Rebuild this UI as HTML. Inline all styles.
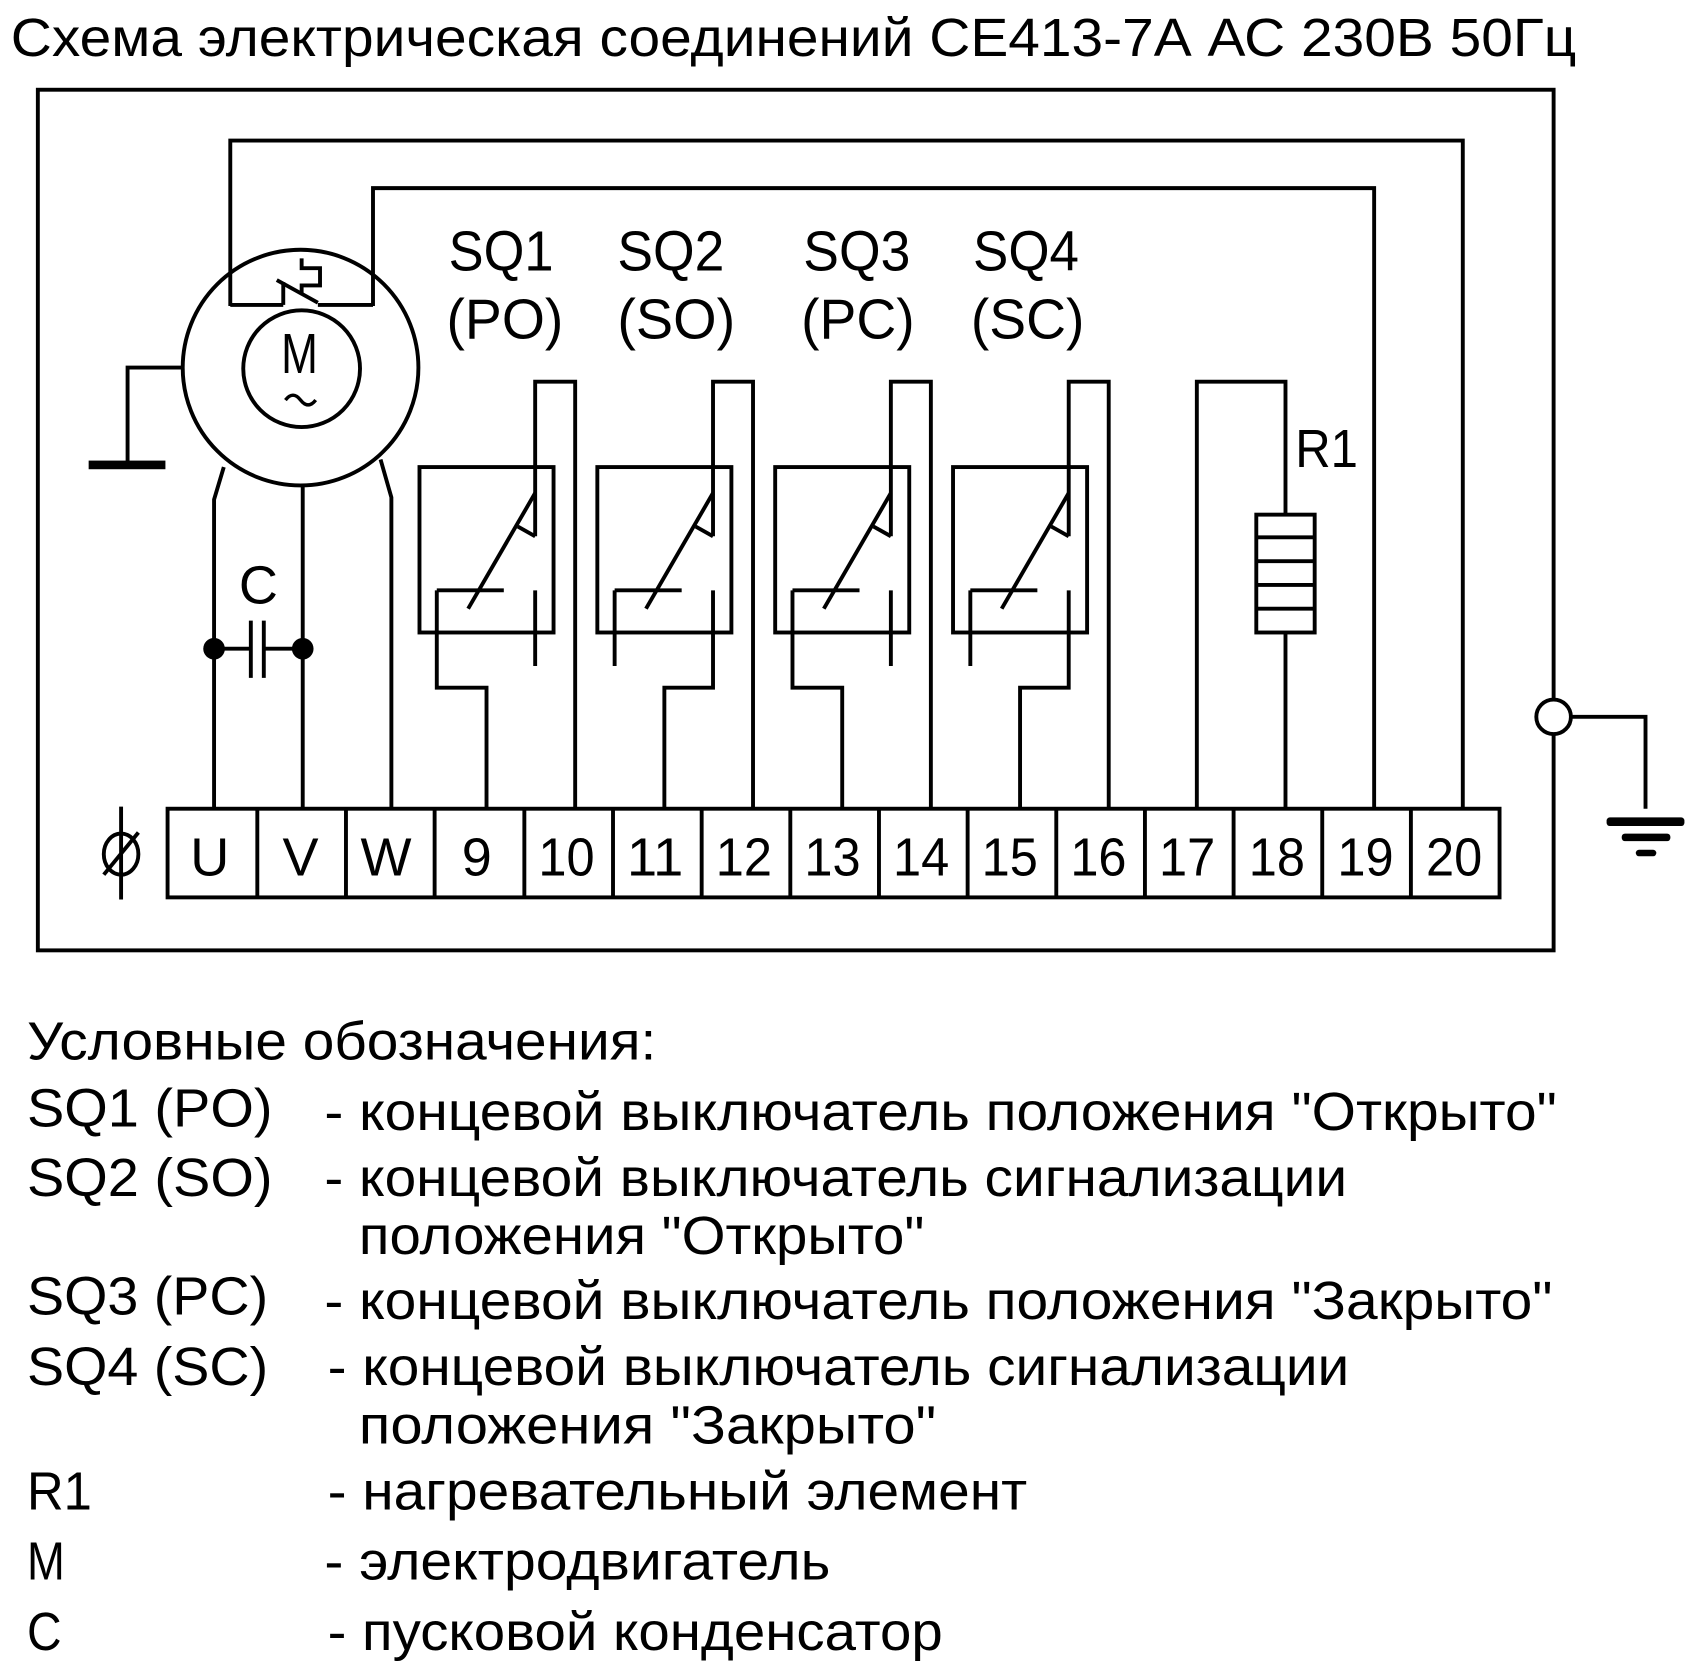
<!DOCTYPE html>
<html><head><meta charset="utf-8">
<style>
html,body{margin:0;padding:0;background:#fff;}
svg{display:block;}
text{font-family:"Liberation Sans","DejaVu Sans",sans-serif;fill:#000;}
</style></head>
<body>
<svg width="1692" height="1674" viewBox="0 0 1565 1548.3" preserveAspectRatio="none" xmlns="http://www.w3.org/2000/svg">
<g fill="none" stroke="#000" stroke-width="3.6" stroke-linejoin="miter" stroke-linecap="butt">
  <rect x="35" y="83" width="1402" height="796"/>
  <polyline points="213,283 213,130 1353,130 1353,748"/>
  <polyline points="345,283 345,174 1271,174 1271,748"/>
  <polyline points="262,282 213,282"/>
  <polyline points="294,282 345,282"/>
  <line x1="262" y1="282" x2="262" y2="261"/>
  <line x1="256" y1="259" x2="294" y2="280"/>
  <polyline points="279,239 279,248 296,248 296,264 279,264 279,272"/>
  <circle cx="278" cy="340" r="109"/>
  <circle cx="279" cy="341" r="54"/>
  <polyline points="169,340 118,340 118,430"/>
  <polyline points="207,432 198,462 198,748"/>
  <line x1="280" y1="449" x2="280" y2="748"/>
  <polyline points="352,425 362,460 362,748"/>
  <line x1="198" y1="600" x2="232" y2="600"/>
  <line x1="244" y1="600" x2="280" y2="600"/>
  <line x1="232" y1="574" x2="232" y2="627"/>
  <line x1="244" y1="574" x2="244" y2="627"/>
  <rect x="155" y="748" width="1232" height="82"/>
  <path d="M238,748V830M320,748V830M402,748V830M485,748V830M567,748V830M649,748V830M731,748V830M813,748V830M895,748V830M977,748V830M1059,748V830M1141,748V830M1223,748V830M1305,748V830"/>
  <line x1="112" y1="746" x2="112" y2="832"/>
  <ellipse cx="112" cy="790" rx="16" ry="19"/>
  <line x1="96" y1="809" x2="128" y2="770"/>

  <g>
    <rect x="388" y="432" width="124" height="153"/>
    <polyline points="495,496 495,353 532,353 532,748"/>
    <line x1="479" y1="487" x2="495" y2="496"/>
    <line x1="495" y1="456" x2="433" y2="563"/>
    <line x1="404" y1="546" x2="466" y2="546"/>
    <polyline points="404,546 404,636 450,636 450,748"/>
    <line x1="495" y1="546" x2="495" y2="616"/>
  </g>
  <g transform="translate(329,0)">
    <rect x="388" y="432" width="124" height="153"/>
    <polyline points="495,496 495,353 532,353 532,748"/>
    <line x1="479" y1="487" x2="495" y2="496"/>
    <line x1="495" y1="456" x2="433" y2="563"/>
    <line x1="404" y1="546" x2="466" y2="546"/>
    <polyline points="404,546 404,636 450,636 450,748"/>
    <line x1="495" y1="546" x2="495" y2="616"/>
  </g>
  <g transform="translate(164.5,0)">
    <rect x="388" y="432" width="124" height="153"/>
    <polyline points="495,496 495,353 532,353 532,748"/>
    <line x1="479" y1="487" x2="495" y2="496"/>
    <line x1="495" y1="456" x2="433" y2="563"/>
    <line x1="404" y1="546" x2="466" y2="546"/>
    <line x1="404" y1="546" x2="404" y2="616"/>
    <polyline points="495,546 495,636 450,636 450,748"/>
  </g>
  <g transform="translate(493.5,0)">
    <rect x="388" y="432" width="124" height="153"/>
    <polyline points="495,496 495,353 532,353 532,748"/>
    <line x1="479" y1="487" x2="495" y2="496"/>
    <line x1="495" y1="456" x2="433" y2="563"/>
    <line x1="404" y1="546" x2="466" y2="546"/>
    <line x1="404" y1="546" x2="404" y2="616"/>
    <polyline points="495,546 495,636 450,636 450,748"/>
  </g>

  <polyline points="1107,748 1107,353 1189,353 1189,476"/>
  <rect x="1162" y="476" width="54" height="109"/>
  <path d="M1162,497H1216M1162,519H1216M1162,541H1216M1162,563H1216"/>
  <line x1="1189" y1="585" x2="1189" y2="748"/>

  <circle cx="1437" cy="663" r="16" fill="#fff"/>
  <polyline points="1453,663 1522,663 1522,748"/>
  <path d="M264,370 q7,-9 14,0 t14,0" stroke-width="3.2"/>
</g>
<g fill="#000" stroke="none">
  <circle cx="198" cy="600" r="10"/>
  <circle cx="280" cy="600" r="10"/>
  <rect x="82" y="426" width="71" height="8"/>
  <rect x="1486" y="756" width="72" height="8" rx="3"/>
  <rect x="1500" y="771" width="45" height="7" rx="3"/>
  <rect x="1513" y="786" width="19" height="6" rx="3"/>
</g>

<text x="10" y="52" font-size="50" textLength="1448" lengthAdjust="spacingAndGlyphs">Схема электрическая соединений СЕ413-7А  АС 230В 50Гц</text>
<text x="277" y="345" font-size="52" text-anchor="middle" textLength="34" lengthAdjust="spacingAndGlyphs">M</text>
<text x="239" y="558" font-size="50" text-anchor="middle">C</text>
<text x="1198" y="432" font-size="50" textLength="58" lengthAdjust="spacingAndGlyphs">R1</text>

<g font-size="52">
<text x="415" y="250" textLength="97" lengthAdjust="spacingAndGlyphs">SQ1</text>
<text x="413" y="313" textLength="108" lengthAdjust="spacingAndGlyphs">(PO)</text>
<text x="571" y="250" textLength="99" lengthAdjust="spacingAndGlyphs">SQ2</text>
<text x="571" y="313" textLength="109" lengthAdjust="spacingAndGlyphs">(SO)</text>
<text x="743" y="250" textLength="99" lengthAdjust="spacingAndGlyphs">SQ3</text>
<text x="741" y="313" textLength="105" lengthAdjust="spacingAndGlyphs">(PC)</text>
<text x="900" y="250" textLength="98" lengthAdjust="spacingAndGlyphs">SQ4</text>
<text x="898" y="313" textLength="105" lengthAdjust="spacingAndGlyphs">(SC)</text>
</g>

<g font-size="50" text-anchor="middle">
<text x="194" y="810">U</text>
<text x="278" y="810">V</text>
<text x="357" y="810">W</text>
<text x="441" y="810">9</text>
<text x="524" y="810" textLength="52" lengthAdjust="spacingAndGlyphs">10</text>
<text x="606" y="810" textLength="52" lengthAdjust="spacingAndGlyphs">11</text>
<text x="688" y="810" textLength="52" lengthAdjust="spacingAndGlyphs">12</text>
<text x="770" y="810" textLength="52" lengthAdjust="spacingAndGlyphs">13</text>
<text x="852" y="810" textLength="52" lengthAdjust="spacingAndGlyphs">14</text>
<text x="934" y="810" textLength="52" lengthAdjust="spacingAndGlyphs">15</text>
<text x="1016" y="810" textLength="52" lengthAdjust="spacingAndGlyphs">16</text>
<text x="1098" y="810" textLength="52" lengthAdjust="spacingAndGlyphs">17</text>
<text x="1181" y="810" textLength="52" lengthAdjust="spacingAndGlyphs">18</text>
<text x="1263" y="810" textLength="52" lengthAdjust="spacingAndGlyphs">19</text>
<text x="1345" y="810" textLength="52" lengthAdjust="spacingAndGlyphs">20</text>
</g>

<g font-size="50">
<text x="25" y="980" textLength="582" lengthAdjust="spacingAndGlyphs">Условные обозначения:</text>
<text x="25" y="1042" textLength="227" lengthAdjust="spacingAndGlyphs">SQ1 (PO)</text>
<text x="300" y="1045" textLength="1140" lengthAdjust="spacingAndGlyphs">- концевой выключатель положения "Открыто"</text>
<text x="25" y="1106" textLength="227" lengthAdjust="spacingAndGlyphs">SQ2 (SO)</text>
<text x="300" y="1106" textLength="946" lengthAdjust="spacingAndGlyphs">- концевой выключатель сигнализации</text>
<text x="332" y="1160" textLength="523" lengthAdjust="spacingAndGlyphs">положения "Открыто"</text>
<text x="25" y="1216" textLength="223" lengthAdjust="spacingAndGlyphs">SQ3 (PC)</text>
<text x="300" y="1220" textLength="1136" lengthAdjust="spacingAndGlyphs">- концевой выключатель положения "Закрыто"</text>
<text x="25" y="1281" textLength="223" lengthAdjust="spacingAndGlyphs">SQ4 (SC)</text>
<text x="303" y="1281" textLength="945" lengthAdjust="spacingAndGlyphs">- концевой выключатель сигнализации</text>
<text x="332" y="1335" textLength="534" lengthAdjust="spacingAndGlyphs">положения  "Закрыто"</text>
<text x="25" y="1396" textLength="60" lengthAdjust="spacingAndGlyphs">R1</text>
<text x="303" y="1396" textLength="647" lengthAdjust="spacingAndGlyphs">- нагревательный элемент</text>
<text x="25" y="1461" textLength="35" lengthAdjust="spacingAndGlyphs">M</text>
<text x="300" y="1461" textLength="468" lengthAdjust="spacingAndGlyphs">- электродвигатель</text>
<text x="25" y="1526" textLength="32" lengthAdjust="spacingAndGlyphs">C</text>
<text x="303" y="1526" textLength="569" lengthAdjust="spacingAndGlyphs">- пусковой конденсатор</text>
</g>
</svg>
</body></html>
